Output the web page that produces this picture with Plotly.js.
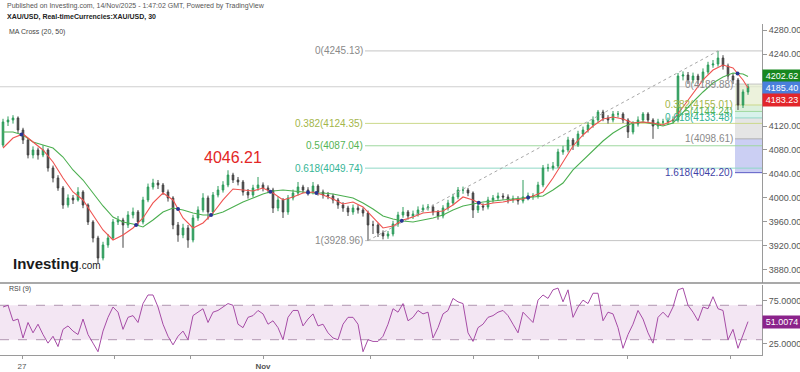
<!DOCTYPE html>
<html><head><meta charset="utf-8">
<script src="https://cdn.plot.ly/plotly-3.0.1.min.js"></script>
<style>html,body{margin:0;padding:0;background:#fff}#chart{width:800px;height:372px}</style>
</head><body><div id="chart"></div>
<script>
// ---------- DATA (XAU/USD, 30 min) ----------
const firstOpen = 4088.3;
const closes = [4126.7,4130.0,4133.3,4113.3,4096.7,4071.7,4080.0,4071.7,4080.0,4050.0,
 4033.3,4016.7,3988.3,4000.0,3996.7,4010.0,3988.3,3960.0,3933.3,3900.0,
 3921.7,3933.3,3960.0,3963.3,3955.0,3971.7,3976.7,3960.0,3996.7,4018.3,
 4025.0,4021.7,4010.0,4000.0,3955.0,3938.3,3950.0,3930.0,3966.7,3980.0,
 4000.0,3976.7,4005.0,4013.3,4021.7,4038.3,4030.0,4026.7,4010.0,4005.0,
 4016.7,4021.7,4016.7,4013.3,3983.3,3996.7,3976.7,4000.0,4008.3,4018.3,
 4013.3,4010.0,4020.0,4010.0,4005.0,4003.3,3996.7,3988.3,3983.3,3976.7,
 3983.3,3980.0,3975.0,3955.0,3955.0,3941.7,3936.7,3940.0,3956.7,3971.7,
 3976.7,3970.0,3973.3,3980.0,3983.3,3985.0,3976.7,3970.0,3983.3,3991.7,
 4001.7,4013.3,4013.3,4008.3,3980.0,3986.7,3985.0,3996.7,4000.0,4003.3,
 4001.7,3996.7,3998.3,3995.0,4001.7,4003.3,4003.3,4021.7,4050.0,4050.0,
 4053.3,4076.7,4080.0,4096.7,4088.3,4106.7,4113.3,4121.7,4130.0,4143.3,
 4133.3,4130.0,4140.0,4140.0,4130.0,4110.0,4123.3,4130.0,4140.0,4130.0,
 4120.0,4126.7,4126.7,4128.3,4130.0,4203.3,4205.0,4196.7,4203.3,4196.7,
 4210.0,4221.7,4223.3,4233.3,4220.0,4203.3,4196.7,4155.0,4176.7,4185.4];
const highs = [4132,4136,4138,4136,4117,4100,4086,4084,4088,4083,
 4054,4038,4020,4006,4005,4018,4013,3991,3963,3937,
 3927,3940,3965,3970,3967,3978,3984,3980,4002,4024,
 4032,4030,4025,4014,4003,3960,3957,3955,3972,3986,
 4008,4004,4010,4020,4028,4046.21,4042,4035,4030,4015,
 4022,4035,4026,4021,4017,4003,4000,4005,4014,4026.7,
 4022,4018,4026.7,4023,4014,4010,4007,4000,3993,3987,
 3989,3988,3984,3979,3962,3958,3946,3945,3962,3977,
 3985,3980,3979,3986,3989,3990,3989,3980,3988,3997,
 4007,4018.3,4019,4017,4011,3992,3991,4002,4005,4009,
 4008,4006,4004,4003,4030,4009,4008,4027,4055,4057,
 4060,4082,4087,4102,4100,4112,4119,4127,4136,4146.7,
 4147,4138,4145,4145,4143,4133,4128,4136,4143.3,4143,
 4133,4132,4132,4134,4136,4208.3,4211,4210,4209,4207,
 4216,4227,4230,4245.13,4238,4224,4208,4200,4181,4190];
const lows = [4085,4120,4124,4108,4090,4066,4066,4064,4068,4044,
 4026,4012,3982,3984,3990,3994,3983,3955,3926,3891.7,
 3896,3917,3930,3955,3917,3950,3966,3954,3956,3993,
 4014,4015,4005,3994,3948,3927,3933,3917,3926,3962,
 3976,3964,3972,4001,4009,4018,4025,4021,4004,3999,
 4001,4012,4011,4008,3975,3978,3966.7,3972,3996,4004,
 4008,4004,4006,4004,3999,3998,3991,3982,3977,3970,
 3972,3974,3969,3928.96,3940,3935,3931,3932,3936,3952,
 3967,3964,3965,3969,3976,3979,3971,3964,3966,3979,
 3988,3998,4007,4003,3966.7,3975,3979,3981,3992,3996,
 3997,3991,3992,3989,3991,3996,3997,3999,4018,4044,
 4046,4050,4072,4076,4080,4085,4102,4109,4117,4126,
 4128,4124,4126,4134,4125,4100,4106,4119,4126,4125,
 4098.61,4115,4121,4122,4124,4126,4196,4190,4191,4190,
 4192,4206,4217,4219,4214,4197,4190,4146.7,4150,4172];

// MA values sampled every 2nd bar (last one at the final bar)
const maStep = 2;
const ma20 = [4083.3,4100.0,4106.7,4093.3,4080.0,4060.0,4033.3,4010.0,3996.7,3971.7,
 3946.7,3930.0,3938.3,3950.0,3966.7,3991.7,4008.3,3996.7,3966.7,3950.0,
 3958.3,3975.0,3996.7,4015.0,4013.3,4011.7,4016.7,4008.3,3996.7,4001.7,
 4008.3,4010.0,4005.0,3998.3,3990.0,3993.3,3985.0,3966.7,3950.0,3953.3,
 3963.3,3968.3,3975.0,3976.7,3978.3,3988.3,4001.7,3996.7,3988.3,3991.7,
 3993.3,3996.7,3998.3,4003.3,4010.0,4033.3,4060.0,4086.7,4105.0,4120.0,
 4131.7,4135.0,4131.7,4125.0,4126.7,4125.0,4121.7,4130.0,4151.7,4175.0,
 4196.7,4213.3,4221.7,4216.7,4196.7,4183.23];
const ma50 = [4110.0,4110.0,4105.0,4093.3,4088.3,4083.3,4068.3,4046.7,4030.0,4008.3,
 3986.7,3968.3,3960.0,3956.7,3951.7,3963.3,3976.7,3983.3,3980.0,3975.0,
 3971.7,3971.7,3976.7,3985.0,3993.3,4000.0,4006.7,4011.7,4013.3,4011.7,
 4010.0,4008.3,4008.3,4006.7,4003.3,4000.0,3991.7,3981.7,3970.0,3965.0,
 3961.7,3960.0,3963.3,3966.7,3971.7,3980.0,3986.7,3990.0,3993.3,3995.0,
 3996.7,3998.3,4000.0,4001.7,4003.3,4013.3,4025.0,4046.7,4063.3,4080.0,
 4095.0,4108.3,4118.3,4125.0,4126.7,4123.3,4120.0,4125.0,4143.3,4160.0,
 4176.7,4191.7,4201.7,4208.3,4206.7,4202.62];

const rsi = [68,70,52,54,32,50,38,48,36,26,
 34,22,42,46,40,36,54,36,26,16,
 40,56,68,62,42,56,58,50,72,82,
 82,68,48,34,24,34,40,30,58,62,
 66,50,62,64,68,72,70,48,44,56,
 58,64,60,48,52,44,30,56,64,64,
 46,54,60,46,48,38,32,30,48,56,
 56,48,16,30,28,28,34,48,66,62,
 72,52,56,64,60,62,32,44,60,64,
 78,74,72,38,28,44,48,56,58,62,
 64,58,48,38,62,56,50,76,82,78,
 88,90,74,88,56,68,76,72,84,84,
 52,62,60,44,20,36,48,64,54,38,
 26,56,62,56,68,88,90,70,62,52,
 68,66,80,66,64,30,42,20,36,51.0074];

const dayTickBars = [3.8, 22.2, 37.4, 52, 73.4, 94, 107, 124.8, 145.4];
const dayTickLabels = ['27','','','<b>Nov</b>','','','','',''];

const fibMainRatios = ['0','0.382','0.5','0.618','1'];
const fibMainPrices = [4245.13,4124.35,4087.04,4049.74,3928.96];
const fibMainStartBar = 72.4;
const fibExtRatios = ['0','0.382','0.5','0.618','1','1.618'];
const fibExtPrices = [4189.88,4155.01,4144.24,4133.48,4098.61,4042.20];
const fibExtStartBar = 146.4;

const trendBars = [73, 143];
const trendPrices = [3928.96, 4245.13];

const lastPrice = 4185.40;
const highLabelBar = 45;
const highLabelValue = 4046.21;

// 4160 and 4200 sit under the price tags in the reference
const priceTicks = [3880,3920,3960,4000,4040,4080,4120,4240,4280];
const rsiTicks = [25, 75];
const rsiBand = [30, 70];

// ---------- BUILD ----------
const n = closes.length;
const xs = closes.map((_, i) => i);
const opens = closes.map((c, i) => i === 0 ? firstOpen : closes[i - 1]);
const maX = ma20.map((_, k) => Math.min(k * maStep, n - 1));
const xMin = -0.6, xMax = n + 1.8;

// MA crossings
const crossX = [], crossY = [];
for (let k = 1; k < ma20.length; k++) {
  const d0 = ma20[k-1] - ma50[k-1], d1 = ma20[k] - ma50[k];
  if (d0 * d1 < 0) {
    const t = d0 / (d0 - d1);
    crossX.push(maX[k-1] + t * (maX[k] - maX[k-1]));
    crossY.push(ma20[k-1] + t * (ma20[k] - ma20[k-1]));
  }
}

const FONT = 'Liberation Sans, Arial, sans-serif';
const traces = [
  {type:'candlestick', x:xs, open:opens, high:highs, low:lows, close:closes,
   xaxis:'x', yaxis:'y', whiskerwidth:0, hoverinfo:'skip',
   increasing:{line:{color:'#2e9c5c', width:1}, fillcolor:'#2e9c5c'},
   decreasing:{line:{color:'#444444', width:1}, fillcolor:'#444444'}},
  {type:'scatter', mode:'lines', x:trendBars, y:trendPrices, xaxis:'x', yaxis:'y',
   line:{color:'#a8a8a8', width:1, dash:'dot'}, hoverinfo:'skip'},
  {type:'scatter', mode:'lines', x:maX, y:ma50, xaxis:'x', yaxis:'y',
   line:{color:'#4caf50', width:1.1}, hoverinfo:'skip'},
  {type:'scatter', mode:'lines', x:maX, y:ma20, xaxis:'x', yaxis:'y',
   line:{color:'#ef5350', width:1.1}, hoverinfo:'skip'},
  {type:'scatter', mode:'markers', x:crossX, y:crossY, xaxis:'x', yaxis:'y',
   marker:{color:'#283593', size:4}, hoverinfo:'skip'},
  {type:'scatter', mode:'lines', x:xs, y:rsi, xaxis:'x', yaxis:'y2',
   line:{color:'#a64ca6', width:1}, hoverinfo:'skip'}
];

const mainColors = ['#c4c4c4','#cbd98a','#9fd89f','#8fd8c6','#c4c4c4'];
const mainLabelColors = ['#8a8a8a','#a3b64a','#55b455','#35b596','#8a8a8a'];
const extColors = ['#c4c4c4','#cbd98a','#9fd89f','#8fd8c6','#b0b0b0','#5b5bc4'];
const extLabelColors = ['#8a8a8a','#a3b64a','#55b455','#35b596','#8a8a8a','#3f3fa6'];
const extFills = ['rgba(228,236,205,0.7)','rgba(205,234,205,0.7)','rgba(200,236,226,0.7)','rgba(226,226,226,0.9)','rgba(200,204,242,0.95)'];

const shapes = [];
shapes.push({type:'rect', xref:'paper', yref:'y2', x0:0, x1:1, y0:rsiBand[0], y1:rsiBand[1],
  fillcolor:'#f3e6f3', line:{width:0}, layer:'below'});
rsiBand.forEach(v => shapes.push({type:'line', xref:'paper', yref:'y2', x0:0, x1:1, y0:v, y1:v,
  line:{color:'#b096b0', width:1, dash:'dash'}, layer:'below'}));
for (let i = 0; i < fibExtPrices.length - 1; i++) {
  shapes.push({type:'rect', xref:'x', yref:'y', x0:fibExtStartBar, x1:xMax,
    y0:fibExtPrices[i+1], y1:fibExtPrices[i], fillcolor:extFills[i], line:{width:0}, layer:'below'});
}
shapes.push({type:'line', xref:'paper', yref:'y', x0:0, x1:1, y0:lastPrice, y1:lastPrice,
  line:{color:'#cfcfcf', width:1}, layer:'below'});
fibMainPrices.forEach((p, i) => shapes.push({type:'line', xref:'x', yref:'y', x0:fibMainStartBar, x1:xMax,
  y0:p, y1:p, line:{color:mainColors[i], width:1}, layer:'below'}));
fibExtPrices.forEach((p, i) => shapes.push({type:'line', xref:'x', yref:'y', x0:fibExtStartBar, x1:xMax,
  y0:p, y1:p, line:{color:extColors[i], width:1}, layer:'below'}));

const MAIN_BOTTOM = 0.2175, RSI_TOP = 0.2115;
shapes.push({type:'line', xref:'paper', yref:'paper', x0:0, x1:1.05, y0:MAIN_BOTTOM, y1:MAIN_BOTTOM,
  line:{color:'#8c8c8c', width:1.5}});

const ann = [];
fibMainPrices.forEach((p, i) => ann.push({xref:'x', yref:'y', x:fibMainStartBar, y:p, xanchor:'right', yanchor:'middle',
  text:fibMainRatios[i] + '(' + p.toFixed(2) + ')', showarrow:false, font:{family:FONT, size:10, color:mainLabelColors[i]}}));
fibExtPrices.forEach((p, i) => ann.push({xref:'x', yref:'y', x:fibExtStartBar, y:p, xanchor:'right', yanchor:'middle',
  text:fibExtRatios[i] + '(' + p.toFixed(2) + ')', showarrow:false, font:{family:FONT, size:10, color:extLabelColors[i]}}));
ann.push({xref:'x', yref:'y', x:highLabelBar, y:highLabelValue, xshift:5, yshift:13, showarrow:false,
  text:highLabelValue.toFixed(2), font:{family:FONT, size:16, color:'#e32626'}});
const tag = (v, yref, color, ys, digits) => ({xref:'paper', yref:yref, x:1, y:v, xanchor:'left', yanchor:'middle',
  yshift:ys, showarrow:false, text:v.toFixed(digits), bgcolor:color, width:36, height:10, borderpad:1,
  font:{family:FONT, size:9, color:'#ffffff'}});
ann.push(tag(ma50[ma50.length-1], 'y', '#17871f', 0, 2));
ann.push(tag(lastPrice, 'y', '#4a7fdc', -1, 2));
ann.push(tag(ma20[ma20.length-1], 'y', '#e2262b', -12, 2));
ann.push(tag(rsi[n-1], 'y2', '#8b238b', 0, 4));
const px = x => x / 762, py = y => (355 - y) / 331;
ann.push({xref:'paper', yref:'paper', x:px(5), y:py(6), xanchor:'left', yanchor:'middle', showarrow:false,
  text:'Published on Investing.com, 14/Nov/2025 - 1:47:02 GMT, Powered by TradingView', font:{family:FONT, size:7, color:'#555'}});
ann.push({xref:'paper', yref:'paper', x:px(5), y:py(17), xanchor:'left', yanchor:'middle', showarrow:false,
  text:'<b>XAU/USD, Real-timeCurrencies:XAU/USD, 30</b>', font:{family:FONT, size:7, color:'#222'}});
ann.push({xref:'paper', yref:'paper', x:px(7), y:py(32), xanchor:'left', yanchor:'middle', showarrow:false,
  text:'MA Cross (20, 50)', font:{family:FONT, size:7, color:'#444'}});
ann.push({xref:'paper', yref:'paper', x:px(7), y:py(289), xanchor:'left', yanchor:'middle', showarrow:false,
  text:'RSI (9)', font:{family:FONT, size:7, color:'#444'}});
ann.push({xref:'paper', yref:'paper', x:px(11), y:py(263), xanchor:'left', yanchor:'middle', showarrow:false,
  text:'<b>Investing</b><span style="font-size:10px">.com</span>', font:{family:FONT, size:15, color:'#1b1b1b'}});

const axFont = {family:FONT, size:9, color:'#555'};
const layout = {
  width:800, height:372, margin:{l:0, r:38, t:24, b:17},
  paper_bgcolor:'#fff', plot_bgcolor:'#fff', showlegend:false, dragmode:false,
  boxgap:0.55,
  xaxis:{domain:[0,1], range:[xMin, xMax], anchor:'y2', showgrid:false, zeroline:false,
    rangeslider:{visible:false}, tickmode:'array', tickvals:dayTickBars, ticktext:dayTickLabels,
    ticks:'outside', ticklen:3, tickcolor:'#999', tickfont:{family:FONT, size:8, color:'#555'},
    showline:true, linecolor:'#9a9a9a', linewidth:1},
  yaxis:{domain:[MAIN_BOTTOM,1], range:[3858.3, 4290], side:'right', anchor:'x', showgrid:false, zeroline:false,
    tickmode:'array', tickvals:priceTicks, tickformat:'.2f', ticks:'outside', ticklen:4, tickcolor:'#999',
    tickfont:axFont, showline:true, linecolor:'#9a9a9a', linewidth:1},
  yaxis2:{domain:[0,RSI_TOP], range:[12.2, 93.6], side:'right', anchor:'x', showgrid:false, zeroline:false,
    tickmode:'array', tickvals:rsiTicks, tickformat:'.4f', ticks:'outside', ticklen:4, tickcolor:'#999',
    tickfont:axFont, showline:true, linecolor:'#9a9a9a', linewidth:1},
  shapes:shapes, annotations:ann
};
Plotly.newPlot('chart', traces, layout, {staticPlot:true, displayModeBar:false});
</script></body></html>
